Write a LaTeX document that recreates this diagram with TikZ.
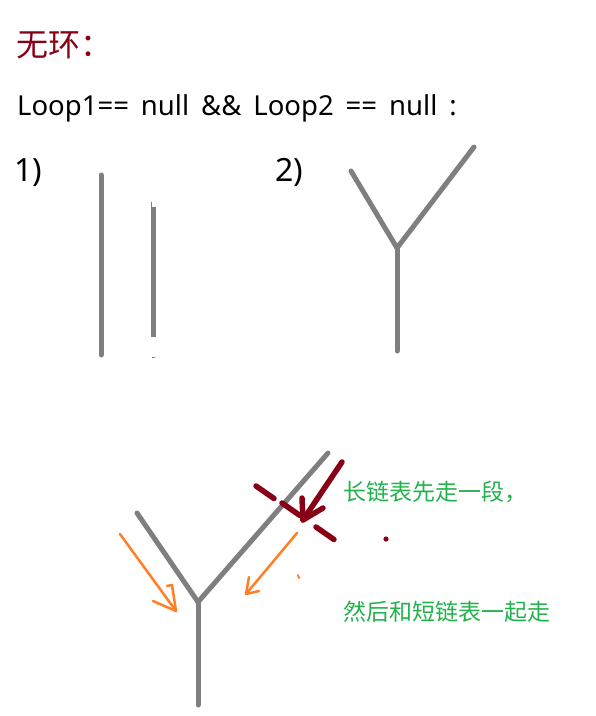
\documentclass[tikz,border=0pt]{standalone}
\usepackage{fontspec}
\setmainfont{Noto Sans}
\newfontfamily\cjk{Noto Sans CJK SC}
\usepackage{xcolor}
\definecolor{chaingray}{HTML}{7F7F7F}
\definecolor{markred}{HTML}{880015}
\definecolor{walkorange}{HTML}{FF7F27}
\definecolor{notegreen}{HTML}{22B14C}

\tikzset{
  chain/.style={chaingray, line width=5pt, line cap=round},
  walk/.style={walkorange, line width=2.5pt, line cap=round, line join=round},
  cut/.style={markred, line width=5.5pt, line cap=round, line join=round},
  note/.style={notegreen, inner sep=0, anchor=base west, font=\cjk\fontsize{23}{23}\selectfont},
}

\begin{document}
\begin{tikzpicture}[x=1pt, y=-1pt]
		\useasboundingbox (0,0) rectangle (596,716);

		% heading and condition
		\node[markred, inner sep=0, anchor=base west, font=\cjk\fontsize{32}{32}\selectfont] (title) at (16,56) {无环：};
		\node[inner sep=0, anchor=base west, font=\fontsize{27.5}{27.5}\selectfont] (cond) at (17,115) {\spaceskip=12pt Loop1== null \&\& Loop2 == null :};

		% case labels
		\node[inner sep=0, anchor=base west, font=\fontsize{32}{32}\selectfont] (one) at (14,181) {1)};
		\node[inner sep=0, anchor=base west, font=\fontsize{32}{32}\selectfont] (two) at (275,181) {2)};

		% case 1: two lists that never meet
		\draw[chain] (101,175) -- (101,355);
		\draw[chain, line cap=butt] (153,207) -- (153,337);
		\draw[chaingray, line width=1pt] (151.5,202) -- (151.5,207);
		\draw[chaingray, line width=1pt] (151.5,357) -- (154.5,357);

		% case 2: two lists that share a tail
		\coordinate (meet2) at (397,248);
		\draw[chain] (351,171) -- (meet2) -- (474,147);
		\draw[chain] (meet2) -- (397,351);

		% lower sketch: walking both lists
		\coordinate (meet3) at (198,602);
		\draw[chain] (137,513) -- (meet3) -- (328,453);
		\draw[chain] (meet3) -- (198,705);

		% orange walkers with hand drawn heads
		\draw[walk] (120,534) -- (176,611);
		\draw[walk] (153,601) -- (176,611) -- (172,585) -- (167,586);
		\draw[walk] (297,533) -- (246,594);
		\draw[walk] (249,577) -- (246,594) -- (259,591);
		\draw[walkorange, line width=2pt] (297.5,574.5) -- (299.5,578.5);

		% long list goes ahead first
		\draw[cut] (342,462) -- (303,520);
		\draw[cut] (302,498) -- (303,520) -- (323,508);
		\foreach \a/\b in {256/486, 282/503, 316/527} {
				\draw[cut] (\a,\b) -- ++(18,12.5);
			}
		\fill[markred] (386,539) circle (2.6);

		% notes
		\node[note] (ahead) at (343,500) {长链表先走一段，};
		\node[note] (together) at (343,620) {然后和短链表一起走};
	\end{tikzpicture}
\end{document}
